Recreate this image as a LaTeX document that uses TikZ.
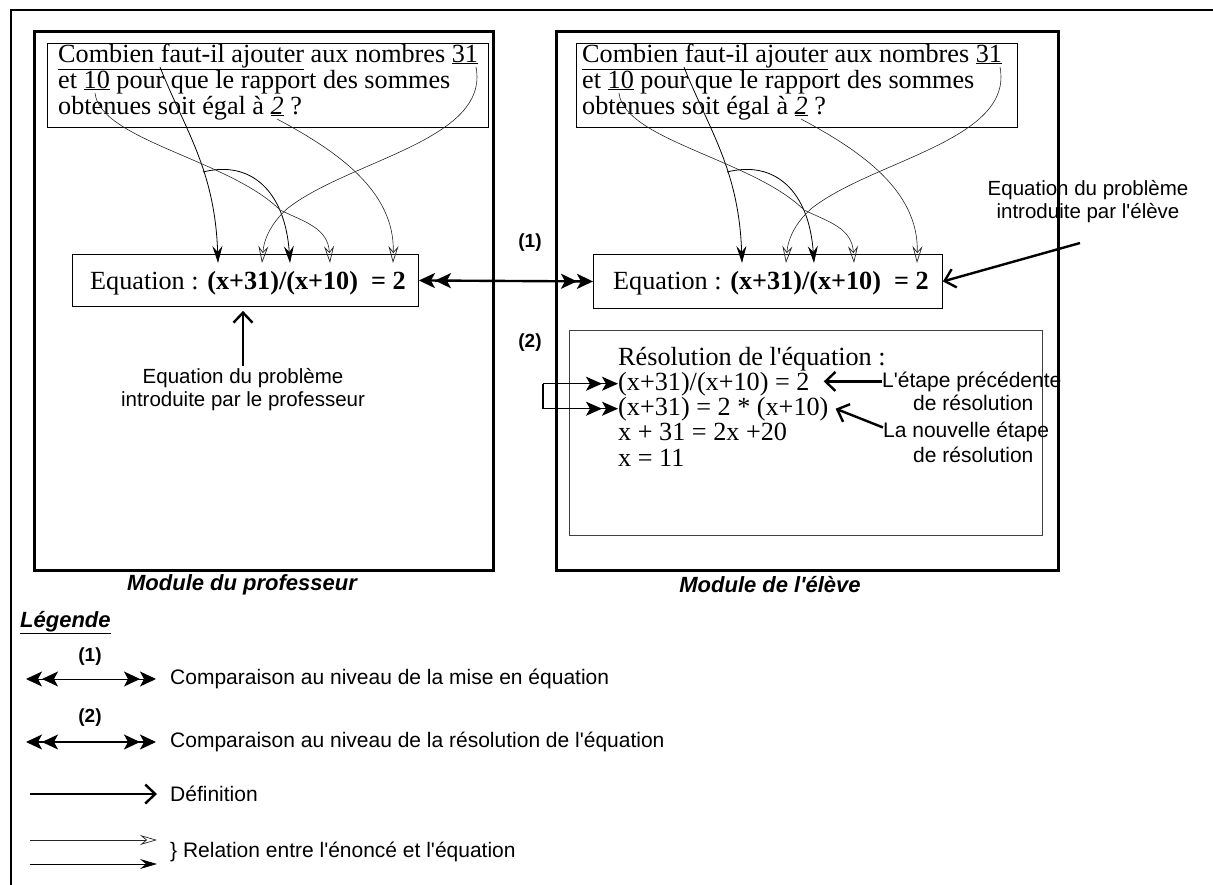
\documentclass[tikz,border=0pt]{standalone}
\usepackage{fontspec}
\setmainfont{Liberation Serif}[Ligatures=TeXOff]
\newfontfamily\arialfont{Liberation Sans}[Ligatures=TeXOff]
\usetikzlibrary{arrows.meta}

% Links from the words of the problem statement to the symbols of the equation
\newcommand{\stmtlinks}[1]{%
  \coordinate (#1sA) at (160,67);
  \coordinate (#1sB) at (203,172);
  \coordinate (#1s10) at (95,93);
  \coordinate (#1s31) at (476,67);
  \coordinate (#1s2) at (277,119);
  \coordinate (#1hubA) at (280,210);
  \coordinate (#1hubB) at (288,208);
  \coordinate (#1tX) at (218,263);
  \coordinate (#1tXX) at (290,263);
  \coordinate (#1tC) at (262,263);
  \coordinate (#1tD) at (330,263);
  \coordinate (#1tE) at (393,263);
  \draw[relfill] (#1sA) .. controls (185,130) and (215,170) .. (#1tX);
  \draw[relfill] (#1sB) .. controls (250,160) and (285,190) .. (#1tXX);
  \draw[relopen] (#1s10) .. controls (100,140) and (230,160) .. (#1hubA)
                 .. controls (305,222) and (328,228) .. (#1tD);
  \draw[relopen] (#1s31) .. controls (490,140) and (350,160) .. (#1hubB)
                 .. controls (272,222) and (264,238) .. (#1tC);
  \draw[relopen] (#1s2) .. controls (335,150) and (395,190) .. (#1tE);
}

\begin{document}
\begin{tikzpicture}[x=1pt,y=-1pt,
  frameline/.style={line width=1.8pt},
  modulebox/.style={draw, line width=2.8pt, anchor=north west},
  thinbox/.style={draw, line width=0.9pt, anchor=north west},
  lightbox/.style={draw, line width=0.7pt, black!75, anchor=north west},
  serif/.style={font=\fontsize{26.2}{27}\selectfont, inner sep=0pt},
  sanslbl/.style={font=\arialfont\fontsize{20.5}{23}\selectfont, inner sep=0pt},
  sanslegend/.style={font=\arialfont\fontsize{21}{24}\selectfont, inner sep=0pt},
  numlbl/.style={font=\arialfont\bfseries\fontsize{19}{22}\selectfont, inner sep=0pt},
  modlbl/.style={font=\arialfont\bfseries\itshape\fontsize{22}{24}\selectfont, inner sep=0pt},
  defarrow/.style={line width=2.4pt, -{Straight Barb[length=10pt,width=19pt]}},
  relopen/.style={line width=0.6pt, black!85, -{Stealth[open,length=17pt,width=10pt,inset=6pt,line width=0.7pt]}},
  relfill/.style={line width=0.8pt, -{Stealth[length=17pt,width=10pt,inset=6pt]}},
  twinhead/.style={line width=2.4pt,
    {Stealth[length=16pt,width=15pt,inset=4pt] Stealth[length=16pt,width=15pt,inset=4pt]}-{Stealth[length=16pt,width=15pt,inset=4pt] Stealth[length=16pt,width=15pt,inset=4pt]}},
  twinright/.style={line width=1.4pt,
    -{Stealth[length=16pt,width=14pt,inset=4pt] Stealth[length=16pt,width=14pt,inset=4pt]}},
]
\useasboundingbox (0,0) rectangle (1213,884);
\clip (0,0) rectangle (1213,884);

% outer frame (continues past the page edges)
\draw[frameline] (11,900) -- (11,10) -- (1230,10);

% the two modules
\node[modulebox, minimum width=459pt, minimum height=539pt] (modL) at (33,30) {};
\node[modulebox, minimum width=502pt, minimum height=539pt] (modR) at (555,30) {};

% problem statements
\node[thinbox, minimum width=441pt, minimum height=84pt] (stmtL) at (47,43) {};
\node[thinbox, minimum width=441pt, minimum height=84pt] (stmtR) at (576,43) {};

\node[serif, anchor=base west] (stL1) at (58,62) {\underline{Combien faut-il ajouter} aux nombres \underline{31}};
\node[serif, anchor=base west] (stL2) at (58,88) {et \underline{10} pour que le rapport des sommes};
\node[serif, anchor=base west] (stL3) at (58,114) {obtenues soit égal à \underline{\textit{2}} ?};
\node[serif, anchor=base west] (stR1) at (582,62) {\underline{Combien faut-il ajouter} aux nombres \underline{31}};
\node[serif, anchor=base west] (stR2) at (582,88) {et \underline{10} pour que le rapport des sommes};
\node[serif, anchor=base west] (stR3) at (582,114) {obtenues soit égal à \underline{\textit{2}} ?};

% equations
\node[thinbox, minimum width=346pt, minimum height=52pt] (eqL) at (72,254) {};
\node[thinbox, minimum width=349pt, minimum height=54pt] (eqR) at (593,254) {};
\node[serif, anchor=base west] (eqLt) at (90,289) {Equation : \textbf{(x+31)/(x+10)\ \ = 2}};
\node[serif, anchor=base west] (eqRt) at (613,289) {Equation : \textbf{(x+31)/(x+10)\ \ = 2}};

% statement-to-equation relations
\stmtlinks{L}
\begin{scope}[xshift=524pt]
\stmtlinks{R}
\end{scope}

% comparison (1)
\node[numlbl] (lbl1) at (530,243) {(1)};
\draw[twinhead] (eqL.east) -- (eqR.west);

% teacher's note
\node[sanslbl, align=center] (profnote) at (243,390) {Equation du problème\\introduite par le professeur};
\draw[defarrow] ([yshift=3pt]profnote.north) -- ([yshift=-4pt]eqL.south -| profnote.north);

% student's note
\node[sanslbl, align=center] (elevenote) at (1088,202) {Equation du problème\\introduite par l'élève};
\coordinate (elevetail) at (1080,243);
\draw[defarrow] (elevetail) -- (eqR.east);

% resolution
\node[lightbox, minimum width=473pt, minimum height=205pt] (resbox) at (569,330) {};
\node[serif, anchor=base west] (resl1) at (618,365) {Résolution de l'équation :};
\node[serif, anchor=base west] (resl2) at (618,390) {(x+31)/(x+10) = 2};
\node[serif, anchor=base west] (resl3) at (618,415) {(x+31) = 2 * (x+10)};
\node[serif, anchor=base west] (resl4) at (618,440) {x + 31 = 2x +20};
\node[serif, anchor=base west] (resl5) at (618,466) {x = 11};

% comparison (2)
\node[numlbl] (lbl2) at (530,343) {(2)};
\path (resl2.west) ++(-75,0) coordinate (brkA);
\path (resl3.west) ++(-75,0) coordinate (brkB);
\draw[line width=1.4pt] (brkA) -- (brkB);
\draw[twinright] (brkA) -- (resl2.west);
\draw[twinright] (brkB) -- (resl3.west);

% step notes
\node[sanslegend, anchor=base west] (prec1) at (882,387) {L'étape précédente};
\node[sanslegend, anchor=base west] (prec2) at (913,410) {de résolution};
\node[sanslegend, anchor=base west] (nouv1) at (883,437) {La nouvelle étape};
\node[sanslegend, anchor=base west] (nouv2) at (913,462) {de résolution};
\draw[defarrow] (prec1.west) -- ([xshift=14pt]resl2.east |- prec1.west);
\draw[defarrow] ([yshift=4pt]nouv1.west) -- ([xshift=7pt]resl3.east);

% module titles
\node[modlbl] (modLlbl) at (242,585) {Module du professeur};
\node[modlbl] (modRlbl) at (770,585) {Module de l'élève};

% legend
\node[modlbl, anchor=base west] (legtitle) at (20,627) {\underline{Légende}};

\node[numlbl] (leg1num) at (90,657) {(1)};
\node[sanslegend, anchor=west] (leg1txt) at (170,679) {Comparaison au niveau de la mise en équation};
\coordinate (leg1a) at (26,679);
\draw[twinhead, line width=1pt] (leg1a) -- ([xshift=-14pt]leg1txt.west);

\node[numlbl] (leg2num) at (90,718) {(2)};
\node[sanslegend, anchor=west] (leg2txt) at (170,742) {Comparaison au niveau de la résolution de l'équation};
\coordinate (leg2a) at (26,742);
\draw[twinhead, line width=1.4pt] (leg2a) -- ([xshift=-14pt]leg2txt.west);

\node[sanslegend, anchor=west] (leg3txt) at (170,794) {Définition};
\coordinate (leg3a) at (30,794);
\draw[defarrow] (leg3a) -- ([xshift=-13pt]leg3txt.west);

\node[sanslegend, anchor=west] (leg4txt) at (170,852) {\} Relation entre l'énoncé et l'équation};
\coordinate (leg4a) at (30,840);
\coordinate (leg4b) at (30,864);
\draw[relopen] (leg4a) -- ([xshift=-13pt,yshift=12pt]leg4txt.west);
\draw[relfill] (leg4b) -- ([xshift=-13pt,yshift=-12pt]leg4txt.west);
\end{tikzpicture}
\end{document}
